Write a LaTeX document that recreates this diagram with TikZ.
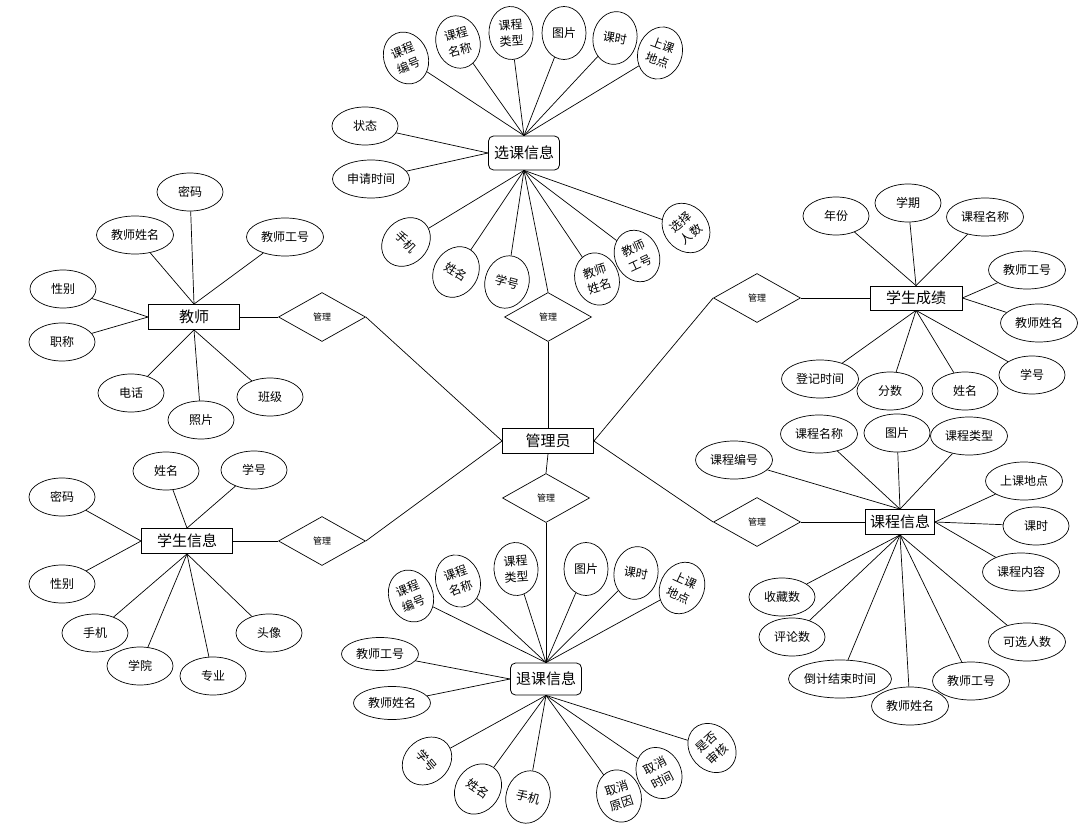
\documentclass[tikz,border=0pt]{standalone}
\usepackage{fontspec}
\setmainfont{Noto Sans CJK SC}
\usetikzlibrary{shapes.geometric}
\begin{document}
\begin{tikzpicture}[x=1pt,y=-1pt,
 every node/.style={inner sep=0pt},
 ent/.style={draw, rectangle, line width=0.8pt, minimum width=91pt, minimum height=25pt, font=\fontsize{15}{18}\selectfont},
 rent/.style={draw, rectangle, rounded corners=5pt, line width=0.8pt, minimum width=71pt, minimum height=34pt, font=\fontsize{15}{18}\selectfont},
 rel/.style={draw, diamond, line width=0.7pt, minimum width=87pt, minimum height=49pt, font=\fontsize{9}{10}\selectfont},
 att/.style={draw, ellipse, line width=0.7pt, minimum width=66pt, minimum height=38pt, font=\fontsize{12}{14}\selectfont},
 attw/.style={att, minimum width=77pt},
 vat/.style={draw, ellipse, line width=0.7pt, minimum width=44pt, minimum height=53pt, align=center, font=\fontsize{12}{16}\selectfont},
 ln/.style={line width=0.7pt}]
\useasboundingbox[fill=white] (0,0) rectangle (1092,834);

% ---------- central ----------
\node[ent] (gly) at (548,441) {管理员};
\node[rel] (r1) at (548,317) {管理};
\node[rel] (r2) at (322,317) {管理};
\node[rel] (r3) at (322,541) {管理};
\node[rel] (r4) at (546,498) {管理};
\node[rel] (r5) at (757,298) {管理};
\node[rel] (r6) at (757,522) {管理};

% ---------- entities ----------
\node[rent] (xk) at (524,153) {选课信息};
\node[ent] (js) at (194,317) {教师};
\node[ent] (xs) at (187,541) {学生信息};
\node[ent, minimum width=92pt, minimum height=24pt] (cj) at (916,298) {学生成绩};
\node[ent, minimum width=69pt] (kc) at (900,522) {课程信息};
\node[rent, minimum height=32pt] (tk) at (546,679) {退课信息};

% ---------- relations connectors ----------
\draw[ln] (r1.south) -- (gly.north);
\draw[ln] (r1.north) -- (xk.south);
\draw[ln] (r2.east) -- (gly.west);
\draw[ln] (r2.west) -- (js.east);
\draw[ln] (r3.east) -- (gly.west);
\draw[ln] (r3.west) -- (xs.east);
\draw[ln] (r4.north) -- (gly.south);
\draw[ln] (r4.south) -- (tk.north);
\draw[ln] (r5.west) -- (gly.east);
\draw[ln] (r5.east) -- (cj.west);
\draw[ln] (r6.west) -- (gly.east);
\draw[ln] (r6.east) -- (kc.west);

% ---------- 选课信息 attributes ----------
\node[vat, rotate=22] (x1) at (406,58) {课程\\编号};
\node[vat, rotate=15] (x2) at (458,42) {课程\\名称};
\node[vat, rotate=4] (x3) at (511,33) {课程\\类型};
\node[vat] (x4) at (564,33) {图片};
\node[vat, rotate=-10] (x5) at (615,38) {课时};
\node[vat, rotate=-20] (x6) at (660,53) {上课\\地点};
\node[att] (x7) at (365,126) {状态};
\node[attw] (x8) at (371,179) {申请时间};
\node[vat, rotate=-45] (x9) at (406,242) {手机};
\node[vat, rotate=-32] (x10) at (456,272) {姓名};
\node[vat, rotate=-15] (x11) at (507,282) {学号};
\node[vat, rotate=18] (x12) at (597,279) {教师\\姓名};
\node[vat, rotate=25] (x13) at (637,256) {教师\\工号};
\node[vat, rotate=40] (x14) at (686,228) {选择\\人数};
\foreach \i in {1,...,6} {\draw[ln] (x\i) -- (xk.north);}
\foreach \i in {7,8} {\draw[ln] (x\i) -- (xk.west);}
\foreach \i in {9,...,14} {\draw[ln] (x\i) -- (xk.south);}

% ---------- 教师 attributes ----------
\node[att] (j1) at (190,192) {密码};
\node[attw] (j2) at (135,235) {教师姓名};
\node[attw] (j3) at (285,237) {教师工号};
\node[att] (j4) at (63,289) {性别};
\node[att] (j5) at (62,342) {职称};
\node[att] (j6) at (131,393) {电话};
\node[att] (j7) at (201,420) {照片};
\node[att] (j8) at (270,397) {班级};
\foreach \i in {1,2,3} {\draw[ln] (j\i) -- (js.north);}
\foreach \i in {4,5} {\draw[ln] (j\i) -- (js.west);}
\foreach \i in {6,7,8} {\draw[ln] (j\i) -- (js.south);}

% ---------- 学生信息 attributes ----------
\node[att] (s1) at (166,471) {姓名};
\node[att] (s2) at (254,470) {学号};
\node[att] (s3) at (62,497) {密码};
\node[att] (s4) at (62,584) {性别};
\node[att] (s5) at (95,633) {手机};
\node[att] (s6) at (140,666) {学院};
\node[att] (s7) at (213,676) {专业};
\node[att] (s8) at (269,633) {头像};
\foreach \i in {1,2} {\draw[ln] (s\i) -- (xs.north);}
\foreach \i in {3,4} {\draw[ln] (s\i) -- (xs.west);}
\foreach \i in {5,...,8} {\draw[ln] (s\i) -- (xs.south);}

% ---------- 学生成绩 attributes ----------
\node[att] (c1) at (836,216) {年份};
\node[att] (c2) at (908,203) {学期};
\node[attw] (c3) at (985,217) {课程名称};
\node[attw] (c4) at (1027,270) {教师工号};
\node[attw] (c5) at (1039,323) {教师姓名};
\node[att] (c6) at (1032,375) {学号};
\node[attw] (c7) at (820,379) {登记时间};
\node[att] (c8) at (890,391) {分数};
\node[att] (c9) at (965,391) {姓名};
\foreach \i in {1,2,3} {\draw[ln] (c\i) -- (cj.north);}
\foreach \i in {4,5} {\draw[ln] (c\i) -- (cj.east);}
\foreach \i in {6,...,9} {\draw[ln] (c\i) -- (cj.south);}

% ---------- 课程信息 attributes ----------
\node[attw] (k1) at (734,460) {课程编号};
\node[attw] (k2) at (819,434) {课程名称};
\node[att] (k3) at (897,433) {图片};
\node[attw] (k4) at (969,436) {课程类型};
\node[attw] (k5) at (1024,481) {上课地点};
\node[att] (k6) at (1036,526) {课时};
\node[attw] (k7) at (1021,572) {课程内容};
\node[attw] (k8) at (1027,642) {可选人数};
\node[attw] (k9) at (971,681) {教师工号};
\node[attw] (k10) at (910,706) {教师姓名};
\node[att, minimum width=103pt] (k11) at (840,679) {倒计结束时间};
\node[att] (k12) at (792,637) {评论数};
\node[att] (k13) at (782,597) {收藏数};
\foreach \i in {1,...,4} {\draw[ln] (k\i) -- (kc.north);}
\foreach \i in {5,6,7} {\draw[ln] (k\i) -- (kc.east);}
\foreach \i in {8,...,13} {\draw[ln] (k\i) -- (kc.south);}

% ---------- 退课信息 attributes ----------
\node[vat, rotate=22] (t1) at (411,596) {课程\\编号};
\node[vat, rotate=20] (t2) at (458,581) {课程\\名称};
\node[vat, rotate=4] (t3) at (516,569) {课程\\类型};
\node[vat] (t4) at (586,569) {图片};
\node[vat, rotate=-10] (t5) at (636,573) {课时};
\node[vat, rotate=-25] (t6) at (682,588) {上课\\地点};
\node[attw, minimum height=33pt] (t7) at (380,654) {教师工号};
\node[attw, minimum height=33pt] (t8) at (392,703) {教师姓名};
\node[vat, rotate=-50] (t9) at (427,761) {学号};
\node[vat, rotate=-35] (t10) at (478,789) {姓名};
\node[vat, rotate=-15] (t11) at (528,797) {手机};
\node[vat, rotate=18] (t12) at (619,796) {取消\\原因};
\node[vat, rotate=28] (t13) at (659,773) {取消\\时间};
\node[vat, rotate=42] (t14) at (712,748) {是否\\审核};
\foreach \i in {1,...,6} {\draw[ln] (t\i) -- (tk.north);}
\foreach \i in {7,8} {\draw[ln] (t\i) -- (tk.west);}
\foreach \i in {9,...,14} {\draw[ln] (t\i) -- (tk.south);}
\end{tikzpicture}
\end{document}
